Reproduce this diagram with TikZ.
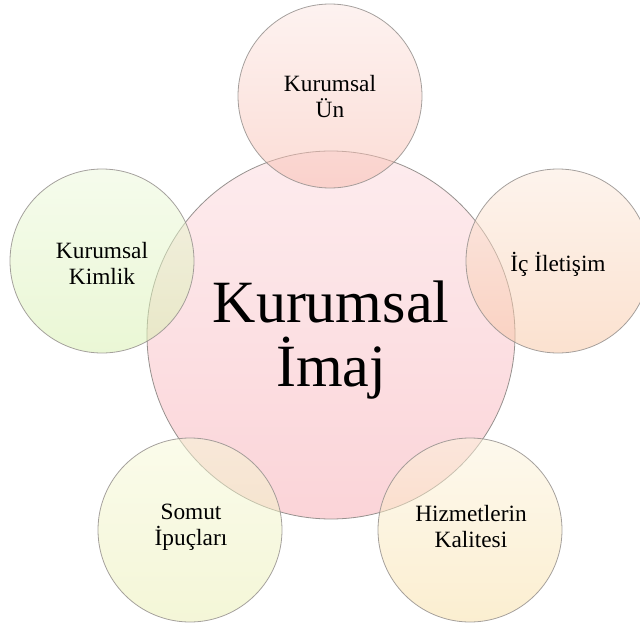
\documentclass[tikz,border=0pt]{standalone}
\usepackage{fontspec}
\setmainfont{Liberation Serif}

% shading colours (top / bottom) for each circle
\definecolor{cenTop}{RGB}{253,236,238}
\definecolor{cenBot}{RGB}{251,212,216}
\definecolor{unTop}{RGB}{252,230,226}
\definecolor{unBot}{RGB}{248,186,172}
\definecolor{icTop}{RGB}{252,233,219}
\definecolor{icBot}{RGB}{248,196,160}
\definecolor{kimTop}{RGB}{236,248,218}
\definecolor{kimBot}{RGB}{214,240,172}
\definecolor{ipuTop}{RGB}{247,248,214}
\definecolor{ipuBot}{RGB}{233,238,176}
\definecolor{hizTop}{RGB}{252,243,220}
\definecolor{hizBot}{RGB}{248,222,162}
\definecolor{ringline}{RGB}{150,145,142}

\tikzset{
  hub/.style={circle, draw=ringline, line width=0.6pt, minimum size=368*0.75pt,
    inner sep=0pt, top color=cenTop, bottom color=cenBot},
  satellite/.style={circle, draw=ringline, line width=0.6pt, minimum size=184*0.75pt,
    inner sep=0pt, fill opacity=0.5, draw opacity=0.85},
  smalltext/.style={align=center, text=black, text opacity=1,
    font=\fontsize{17.5pt}{19.5pt}\selectfont},
  bigtext/.style={align=center, text=black,
    font=\fontsize{45pt}{48pt}\selectfont}
}

\begin{document}
\begin{tikzpicture}[x=0.75pt,y=-0.75pt]
  \useasboundingbox (0,0) rectangle (640,628);

  % central circle
  \node[hub] (hub) at (331,335) {};

  % surrounding circles
  \node[satellite, top color=unTop, bottom color=unBot] (un) at (330,96) {};
  \node[satellite, top color=icTop, bottom color=icBot] (ic) at (558,261) {};
  \node[satellite, top color=kimTop, bottom color=kimBot] (kim) at (102,261) {};
  \node[satellite, top color=ipuTop, bottom color=ipuBot] (ipu) at (190,530) {};
  \node[satellite, top color=hizTop, bottom color=hizBot] (hiz) at (470,530) {};

  % labels
  \node[bigtext] (hubtext) at (331,340) {Kurumsal\\İmaj};
  \node[smalltext] (untext) at (330,97) {Kurumsal\\Ün};
  \node[smalltext] (ictext) at (558,264) {İç İletişim};
  \node[smalltext] (kimtext) at (102,263) {Kurumsal\\Kimlik};
  \node[smalltext] (iputext) at (191,527) {Somut\\İpuçları};
  \node[smalltext] (hiztext) at (471,527) {Hizmetlerin\\Kalitesi};
\end{tikzpicture}
\end{document}
